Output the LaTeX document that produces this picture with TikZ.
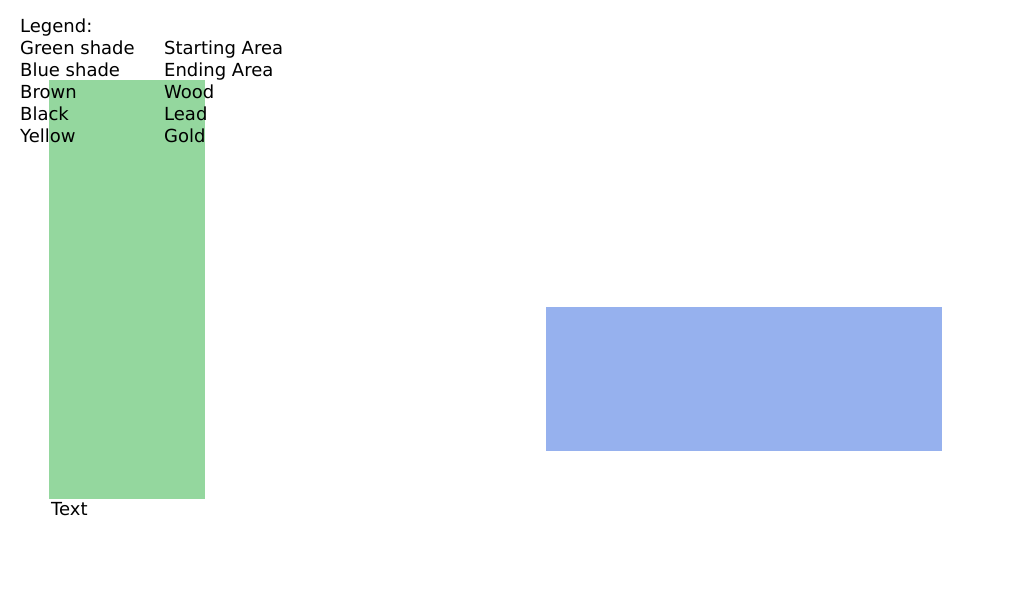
\documentclass[tikz,border=0pt]{standalone}
\usepackage{fontspec}
\setmainfont{DejaVu Sans}
\definecolor{startg}{RGB}{148,215,158}
\definecolor{endb}{RGB}{150,177,238}
\begin{document}
\begin{tikzpicture}[x=1pt,y=-1pt,
  lbl/.style={anchor=base west,inner sep=0pt,font=\fontsize{18}{20}\selectfont}]
\useasboundingbox (0,0) rectangle (1024,600);
\fill[startg] (49,80) rectangle (205,499);
\fill[endb] (546,307) rectangle (942,451);
\node[lbl] (lg) at (20,32) {Legend:};
\node[lbl] (a1) at (20,54) {Green shade};
\node[lbl] (b1) at (164,54) {Starting Area};
\node[lbl] (a2) at (20,76) {Blue shade};
\node[lbl] (b2) at (164,76) {Ending Area};
\node[lbl] (a3) at (20,98) {Brown};
\node[lbl] (b3) at (164,98) {Wood};
\node[lbl] (a4) at (20,120) {Black};
\node[lbl] (b4) at (164,120) {Lead};
\node[lbl] (a5) at (20,142) {Yellow};
\node[lbl] (b5) at (164,142) {Gold};
\node[lbl] (tx) at (51,515) {Text};
\end{tikzpicture}
\end{document}
